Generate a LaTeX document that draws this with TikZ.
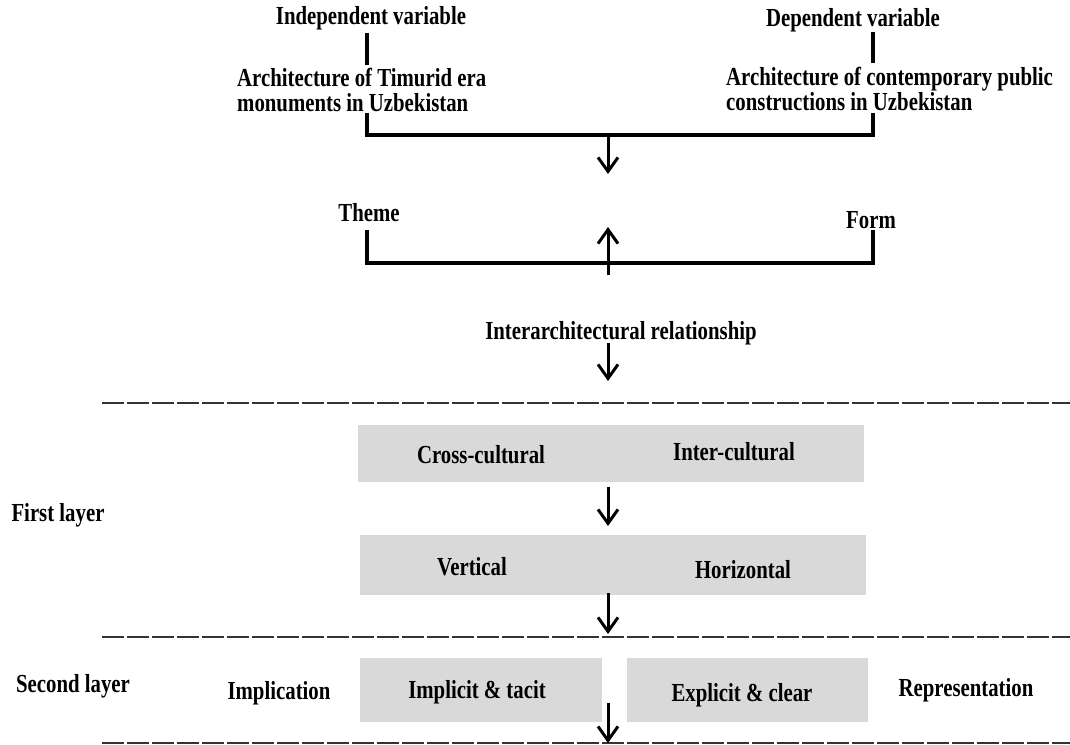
\documentclass[tikz,border=0pt]{standalone}
\usepackage{fontspec}
\setmainfont{Liberation Serif}[FakeStretch=0.8]
\usetikzlibrary{arrows.meta}
\definecolor{boxgray}{HTML}{D9D9D9}
\begin{document}
\begin{tikzpicture}[x=1pt, y=-1pt,
    txt/.style={font=\fontsize{26}{25}\selectfont\bfseries, inner sep=0pt},
    layer/.style={fill=boxgray, draw=none, inner sep=0pt},
    bar/.style={line width=4pt},
    sep/.style={line width=1.5pt, black!80, dash pattern=on 22pt off 3pt},
    >={Straight Barb[length=14pt, width=20pt]}]
    \useasboundingbox (0,0) rectangle (1070,744);
    % variables
    \begin{scope}[every node/.style={txt}]
      \node (indep) at (371,18) {Independent variable}; \node (dep) at
      (853,20) {Dependent variable};
      \node[anchor=west, align=left] (timurid) at (237,90)
      {Architecture of Timurid era\\monuments in Uzbekistan};
      \node[anchor=west, align=left] (contemp) at (726,89)
      {Architecture of contemporary public\\constructions in Uzbekistan};
      \node (theme) at (369,213) {Theme}; \node (form) at (871,220)
      {Form}; \node (inter) at (621,333) {Interarchitectural relationship};
    \end{scope}
    \coordinate (ia) at (367,33); \coordinate (ib) at (367,65);
    \coordinate (da) at (873,32); \coordinate (db) at (873,63);
    \coordinate (tl) at (367,113); \coordinate (tr) at (873,113);
    \coordinate (bl) at (367,230); \coordinate (br) at (873,230);
    \draw[bar, line width=4.5pt] (ia) -- (ib); \draw[bar, line
    width=4.5pt] (da) -- (db);
    \draw[bar] (tl) -- ++(0,22) -| (tr); \draw[bar] (bl) -- ++(0,33) -| (br);
    % layers
    \node[layer, minimum width=506pt, minimum height=57pt] (box1) at
    (611,453.5) {}; \node[layer, minimum width=506pt, minimum
    height=60pt] (box2) at (613,565) {};
    \node[layer, minimum width=242pt, minimum height=64pt] (box3) at
    (481,690) {}; \node[layer, minimum width=241pt, minimum
    height=64pt] (box4) at (747.5,690) {};
    \begin{scope}[every node/.style={txt}]
      \node (cross) at (481,455) {Cross-cultural}; \node (intercult) at
      (734,452) {Inter-cultural};
      \node (vert) at (472,567) {Vertical}; \node (horiz) at (743,570)
      {Horizontal};
      \node (implicit) at (477,692) {Implicit \& tacit}; \node
      (explicit) at (742,695) {Explicit \& clear};
      \node (first) at (58,515) {First layer}; \node (second) at
      (73,686) {Second layer};
      \node (impl) at (279,693) {Implication}; \node (repr) at
      (966,690) {Representation};
    \end{scope}
    % separators
    \coordinate (s1l) at (102,403); \coordinate (s1r) at (1070,403);
    \coordinate (s2l) at (102,637); \coordinate (s2r) at (1070,637);
    \coordinate (s3l) at (102,743); \coordinate (s3r) at (1070,743);
    \draw[sep] (s1l) -- (s1r); \draw[sep] (s2l) -- (s2r); \draw[sep]
    (s3l) -- (s3r);
    % arrows
    \coordinate (a1) at (608,137); \coordinate (a2) at (608,174);
    \coordinate (u1) at (608,275); \coordinate (u2) at (608,227);
    \coordinate (a3) at (608,343); \coordinate (a4) at (608,381);
    \coordinate (a5) at (608,487); \coordinate (a6) at (608,526);
    \coordinate (a7) at (608,593); \coordinate (a8) at (608,634);
    \coordinate (a9) at (608,703); \coordinate (a10) at (608,743);
    \begin{scope}[->, line width=3pt]
      \draw (a1) to (a2); \draw (u1) to (u2); \draw (a3) to (a4);
      \draw (a5) to (a6); \draw (a7) to (a8); \draw (a9) to (a10);
    \end{scope}
\end{tikzpicture}
\end{document}
